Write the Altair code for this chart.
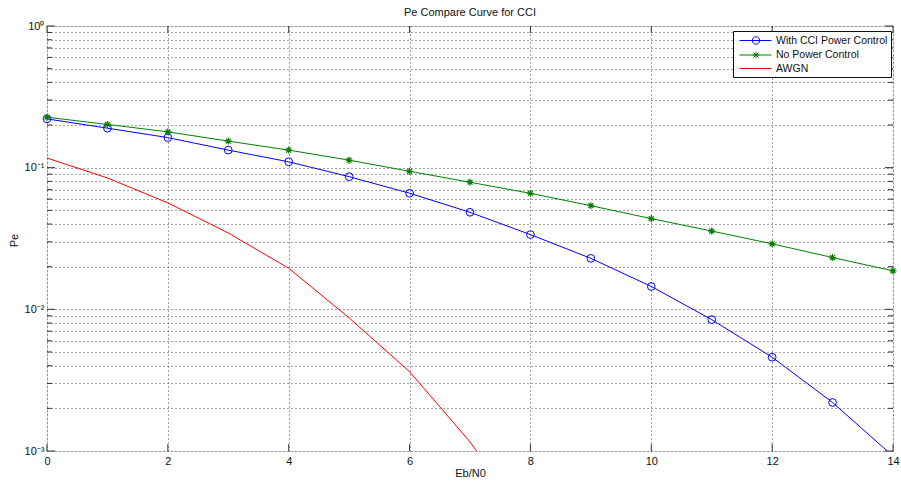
import altair as alt
import pandas as pd

# ---- data ----
series_names = ["With CCI Power Control", "No Power Control", "AWGN"]
series_colors = ["#0000ff", "#008000", "#ff0000"]

x_cci = [0, 1, 2, 3, 4, 5, 6, 7, 8, 9, 10, 11, 12, 13, 14]
pe_cci = [0.221, 0.190, 0.163, 0.133, 0.110, 0.0864, 0.0660, 0.0484, 0.0337,
          0.0229, 0.0145, 0.00846, 0.00459, 0.00220, 0.00092]

x_nopc = [0, 1, 2, 3, 4, 5, 6, 7, 8, 9, 10, 11, 12, 13, 14]
pe_nopc = [0.227, 0.202, 0.179, 0.154, 0.133, 0.113, 0.0943, 0.0789, 0.0659,
           0.0539, 0.0437, 0.0357, 0.0290, 0.0232, 0.0187]

x_awgn = [0, 1, 2, 3, 4, 5, 6, 7, 8]
pe_awgn = [0.117, 0.0846, 0.0564, 0.0346, 0.0195, 0.0087, 0.00363, 0.00116, 0.0003]

x_tick_values = [0, 2, 4, 6, 8, 10, 12, 14]
y_major_values = [0.001, 0.01, 0.1, 1]
y_minor_values = [0.002, 0.003, 0.004, 0.005, 0.006, 0.007, 0.008, 0.009,
                  0.02, 0.03, 0.04, 0.05, 0.06, 0.07, 0.08, 0.09,
                  0.2, 0.3, 0.4, 0.5, 0.6, 0.7, 0.8, 0.9]
y_grid_values = sorted(y_major_values + y_minor_values)

# ---- tables ----
rows = []
for name, xs, ys in [(series_names[0], x_cci, pe_cci),
                     (series_names[1], x_nopc, pe_nopc),
                     (series_names[2], x_awgn, pe_awgn)]:
    for xv, yv in zip(xs, ys):
        rows.append({"series": name, "x": xv, "pe": yv})
df = pd.DataFrame(rows)

df_xt = pd.DataFrame({"x": x_tick_values})
df_ymaj = pd.DataFrame({"pe": y_major_values})
df_ymin = pd.DataFrame({"pe": y_minor_values})

W, H = 846, 425
FONT = "Liberation Sans"

xscale = alt.Scale(domain=[0, 14], nice=False, zero=False)
yscale = alt.Scale(type="log", domain=[0.001, 1], nice=False)

label_expr = ("datum.value == 1 ? '10⁰' : datum.value == 0.1 ? '10⁻¹' : "
              "datum.value == 0.01 ? '10⁻²' : datum.value == 0.001 ? '10⁻³' : ''")

x_axis = alt.Axis(values=x_tick_values, title="Eb/N0", grid=True, gridDash=[1, 3],
                  gridColor="#444444", domain=False, ticks=False, tickSize=0,
                  labelPadding=4, labelFlush=False, labelFont=FONT, labelFontSize=11,
                  labelColor="#111111", titleFont=FONT, titleFontSize=11,
                  titleFontWeight="normal", titleColor="#111111", titleY=22,
                  titleBaseline="middle")
y_axis = alt.Axis(values=y_grid_values, labelExpr=label_expr, title="Pe", grid=True,
                  gridDash=[1, 3], gridColor="#444444", domain=False, ticks=False,
                  tickSize=0, labelPadding=3, labelFont=FONT, labelFontSize=11,
                  labelColor="#111111", labelBaseline="middle", labelFlush=False,
                  labelOverlap=False,
                  titleFont=FONT, titleFontSize=11, titleFontWeight="normal",
                  titleColor="#111111", titleAngle=-90, titleX=-33, titleY=214,
                  titleBaseline="middle", titleAlign="center")

X = alt.X("x:Q", scale=xscale, axis=x_axis, title="Eb/N0")
Y = alt.Y("pe:Q", scale=yscale, axis=y_axis, title="Pe")

base = alt.Chart(df)

lines = []
for name, col in zip(series_names, series_colors):
    lines.append(
        base.transform_filter(alt.datum.series == name)
        .mark_line(color=col, strokeWidth=1, clip=True)
        .encode(x=X, y=Y, order="x:Q")
    )

asterisk = "M0,-1V1M-1,0H1M-0.7,-0.7L0.7,0.7M-0.7,0.7L0.7,-0.7"
circles = (base.transform_filter(alt.datum.series == series_names[0])
           .transform_filter(alt.datum.pe >= 0.001)
           .mark_point(shape="circle", size=60, filled=False, color=series_colors[0],
                       strokeWidth=1, opacity=1)
           .encode(x=X, y=Y))
stars = (base.transform_filter(alt.datum.series == series_names[1])
         .transform_filter(alt.datum.pe >= 0.001)
         .mark_point(shape=asterisk, size=49, filled=False, color=series_colors[1],
                     strokeWidth=1.2, opacity=1)
         .encode(x=X, y=Y))

# legend symbols: line sample with marker (custom paths, unit = sqrt(size)/2 px)
legend_paths = [
    "M-0.5,0H4.83M2.87,0A0.62,0.62 0 1,1 1.63,0A0.62,0.62 0 1,1 2.87,0",
    "M-0.5,0H4.83M2.25,-0.55V0.55M1.7,0H2.8M1.86,-0.39L2.64,0.39M1.86,0.39L2.64,-0.39",
    "M-0.5,0H4.83",
]
leg = alt.Legend(title=None, orient="none", legendX=686, legendY=5, padding=3,
                 rowPadding=1.5, symbolSize=144, symbolStrokeWidth=1,
                 symbolOpacity=1, labelOffset=27, labelFont=FONT, labelFontSize=10.5,
                 labelColor="#111111", labelLimit=300, fillColor="white",
                 strokeColor="#111111", cornerRadius=0)
carrier = (base.mark_point(opacity=0, filled=False, strokeWidth=1, clip=True)
           .encode(x=X, y=Y,
                   color=alt.Color("series:N", scale=alt.Scale(domain=series_names,
                                                               range=series_colors),
                                   legend=leg),
                   shape=alt.Shape("series:N", scale=alt.Scale(domain=series_names,
                                                               range=legend_paths),
                                   legend=leg)))

# inner tick marks (MATLAB-style box ticks)
tk = dict(color="#333333", strokeWidth=1)
xt_bottom = alt.Chart(df_xt).mark_rule(**tk).encode(x=X, y=alt.value(H), y2=alt.value(H - 7))
xt_top = alt.Chart(df_xt).mark_rule(**tk).encode(x=X, y=alt.value(0), y2=alt.value(7))
yt_l_maj = alt.Chart(df_ymaj).mark_rule(**tk).encode(y=Y, x=alt.value(0), x2=alt.value(8))
yt_r_maj = alt.Chart(df_ymaj).mark_rule(**tk).encode(y=Y, x=alt.value(W), x2=alt.value(W - 8))
yt_l_min = alt.Chart(df_ymin).mark_rule(**tk).encode(y=Y, x=alt.value(0), x2=alt.value(5))
yt_r_min = alt.Chart(df_ymin).mark_rule(**tk).encode(y=Y, x=alt.value(W), x2=alt.value(W - 5))

chart = alt.layer(
    *lines, circles, stars, carrier,
    xt_bottom, xt_top, yt_l_maj, yt_r_maj, yt_l_min, yt_r_min
).properties(
    width=W, height=H,
    title=alt.TitleParams("Pe Compare Curve for CCI", font=FONT, fontSize=11,
                          fontWeight="normal", color="#111111", anchor="middle",
                          offset=2),
    autosize=alt.AutoSizeParams(type="none"),
    padding={"left": 47, "top": 26, "right": 8, "bottom": 31},
).configure_view(stroke="#333333", strokeWidth=1).configure(background="white")

chart.save("out.html", embed_options={"renderer": "svg", "actions": False})
